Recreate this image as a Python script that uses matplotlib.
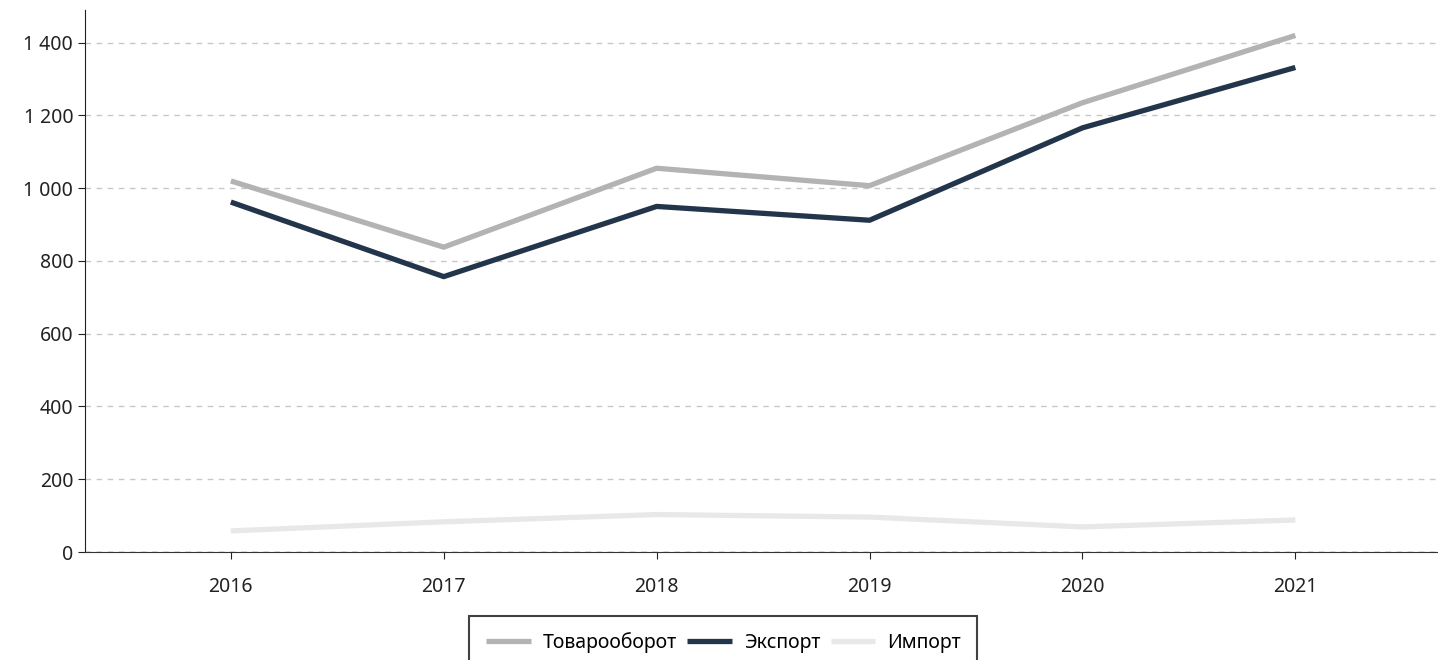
import matplotlib.pyplot as plt
from matplotlib.ticker import FuncFormatter

years = [2016, 2017, 2018, 2019, 2020, 2021]
turnover = [1020, 838, 1055, 1007, 1235, 1420]
export = [962, 757, 950, 912, 1166, 1332]
imports = [58, 83, 103, 96, 69, 88]

plt.rcParams['font.family'] = ['Noto Sans', 'DejaVu Sans']

fig = plt.figure(figsize=(14.38, 6.6), dpi=100)
ax = fig.add_axes([85 / 1438, 1 - 552 / 660, 1 - 85 / 1438, (552 - 10) / 660])

ax.plot(years, turnover, color='#b3b3b3', lw=3.8, label='Товарооборот', solid_capstyle='butt')
ax.plot(years, export, color='#22354a', lw=3.8, label='Экспорт', solid_capstyle='butt')
ax.plot(years, imports, color='#e8e8e8', lw=3.8, label='Импорт', solid_capstyle='butt')

ax.set_xlim(2015.315, 2021.67)
ax.set_ylim(0, 1490)
ax.set_xticks(years)
ax.set_yticks(range(0, 1401, 200))
ax.yaxis.set_major_formatter(FuncFormatter(lambda v, p: '{:,.0f}'.format(v).replace(',', ' ')))
ax.grid(axis='y', linestyle=(0, (4, 4)), color='#c8c8c8', lw=1)
ax.axhline(0, color='#888888', lw=1, linestyle=(0, (4, 4)), zorder=3)
ax.set_axisbelow(True)

for s in ['top', 'right']:
    ax.spines[s].set_visible(False)
ax.spines['left'].set_color('#222222')
ax.spines['bottom'].set_color('#333333')
ax.tick_params(labelsize=14, length=5, color='#222222', labelcolor='#222222')
ax.tick_params(axis='x', pad=13)

leg = fig.legend(loc='upper center', bbox_to_anchor=(0.503, 1 - 607 / 660), ncol=3,
                 frameon=True, fancybox=False, fontsize=14, handlelength=2.3,
                 columnspacing=0.55, handletextpad=0.6, borderpad=0.85,
                 borderaxespad=0.45)
leg.get_frame().set_edgecolor('#111111')
leg.get_frame().set_linewidth(1.5)

fig.savefig('out.png', dpi=100)
